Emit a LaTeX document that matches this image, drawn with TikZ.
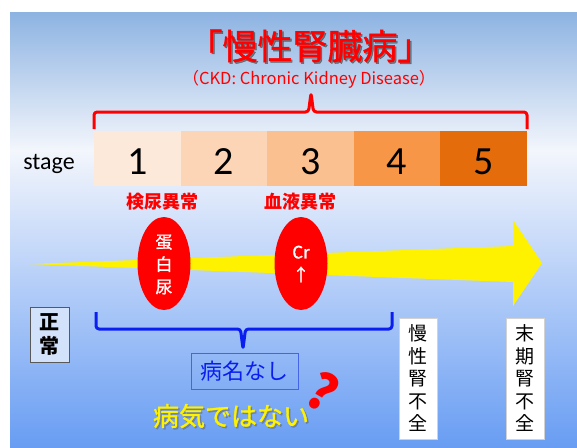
\documentclass[tikz,border=0pt]{standalone}
\usepackage{fontspec}
\setmainfont{Carlito}
\newfontfamily\jp{Noto Sans CJK JP}
\newfontfamily\jpm[FakeBold=1.2]{Noto Sans CJK JP}
\usetikzlibrary{shapes.geometric}
\definecolor{bgtop}{RGB}{141,179,226}
\definecolor{bgmid}{RGB}{243,246,252}
\definecolor{bgbot}{RGB}{104,157,243}
\definecolor{sa}{RGB}{252,233,218}
\definecolor{sb}{RGB}{251,213,181}
\definecolor{sc}{RGB}{250,192,143}
\definecolor{sd}{RGB}{247,150,70}
\definecolor{se}{RGB}{228,108,10}
\definecolor{bbrace}{RGB}{10,30,240}
\definecolor{bbox}{RGB}{70,100,230}
\tikzset{
  stagebox/.style={minimum width=86.6pt, minimum height=55pt, inner sep=0pt},
  num/.style={font=\fontsize{40}{40}\selectfont, text=black, anchor=base},
  redlab/.style={font=\jp\bfseries\fontsize{18}{18}\selectfont, text=red},
  oval/.style={ellipse, fill=red, minimum width=53pt, minimum height=93pt, inner sep=0pt},
  ovaltext/.style={font=\jpm\fontsize{17}{22.5}\selectfont, text=white, align=center},
  vbox/.style={draw=gray!35, fill=white, minimum width=38pt, minimum height=121pt, inner sep=0pt,
    align=center, font=\jp\fontsize{19}{22.5}\selectfont},
  braceline/.style={line width=3pt, rounded corners=3pt, line join=round}
}
\begin{document}
\begin{tikzpicture}[x=1pt,y=-1pt]
\useasboundingbox (0,0) rectangle (577,447);
\fill[white] (0,0) rectangle (577,447);
\shade[top color=bgtop, bottom color=bgmid] (10,12) rectangle (577,150.5);
\shade[top color=bgmid, bottom color=bgbot] (10,150) rectangle (577,447);
% title
\node[font=\jpm\fontsize{35}{35}\selectfont, text=black!75, opacity=0.6] (titlesh) at (311.5,47.5) {「慢性腎臓病」};
\node[font=\jpm\fontsize{35}{35}\selectfont, text=red] (title) at (310,46) {「慢性腎臓病」};
\node[font=\jp\fontsize{16.5}{16.5}\selectfont, text=red] (sub) at (309,79) {（CKD: Chronic Kidney Disease）};
% red brace
\draw[red, braceline] (94,129) -- (94,112) -- (308.5,112) -- (311,93) -- (313.5,112) -- (527,112) -- (527,129);
% stage boxes
\node[stagebox, fill=sa] (s1) at (137.3,158.5) {};
\node[stagebox, fill=sb] (s2) at (223.9,158.5) {};
\node[stagebox, fill=sc] (s3) at (310.5,158.5) {};
\node[stagebox, fill=sd] (s4) at (397.1,158.5) {};
\node[stagebox, fill=se] (s5) at (483.7,158.5) {};
\node[num] (n1) at (137.3,174) {1};
\node[num] (n2) at (223.9,174) {2};
\node[num] (n3) at (310.5,174) {3};
\node[num] (n4) at (397.1,174) {4};
\node[num] (n5) at (483.7,174) {5};
\node[font=\fontsize{24}{24}\selectfont, anchor=base] (stg) at (49,169) {stage};
\node[redlab] (k1) at (162,202) {検尿異常};
\node[redlab] (k2) at (300,202) {血液異常};
% yellow arrow
\fill[yellow] (30,264) -- (513,246) -- (513,220) -- (542,263) -- (513,306) -- (513,282) -- cycle;
% ovals
\node[oval] (e1) at (164,263.5) {};
\node[ovaltext] (t1) at (164,264.5) {蛋\\白\\尿};
\node[oval] (e2) at (301,263.5) {};
\node[ovaltext] (t2) at (301,264) {Cr\\↑};
% normal box
\node[draw=gray!70!black, fill=white!70!bgbot, minimum width=39pt, minimum height=55pt, inner sep=0pt,
  align=center, font=\jp\bfseries\fontsize{20}{24}\selectfont] (sei) at (49.5,334.5) {正\\常};
% blue brace
\draw[bbrace, braceline] (96,312) -- (96,329) -- (240.5,329) -- (243,349) -- (245.5,329) -- (392,329) -- (392,312);
\node[draw=bbox, minimum width=107pt, minimum height=36pt, inner sep=0pt, text=bbrace,
  font=\jp\fontsize{22}{22}\selectfont] (bm) at (244.5,371) {病名なし};
% not a disease
\node[font=\jpm\fontsize{26}{26}\selectfont, text=black!60, opacity=0.5] (nsh) at (232.5,417.5) {病気ではない};
\node[font=\jpm\fontsize{26}{26}\selectfont, text=yellow] (nd) at (231,416) {病気ではない};
\node[font=\jp\bfseries\fontsize{50}{50}\selectfont, text=red, rotate=-30] (q) at (323,392) {?};
% vertical boxes
\node[vbox] (v1) at (418,378.5) {慢\\性\\腎\\不\\全};
\node[vbox] (v2) at (525,378.5) {末\\期\\腎\\不\\全};
\end{tikzpicture}
\end{document}
